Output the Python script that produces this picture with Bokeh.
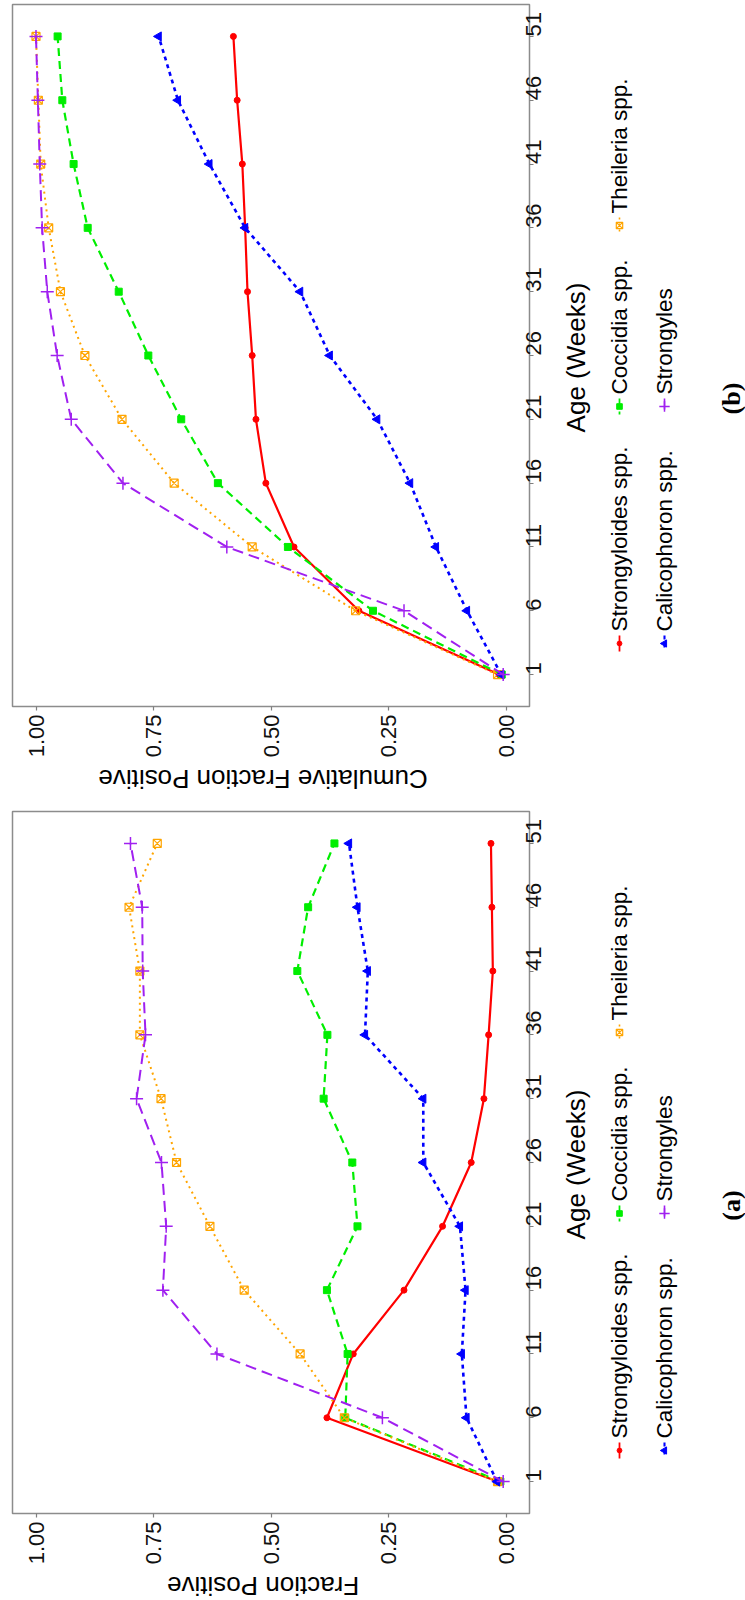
from math import pi

from bokeh.core.properties import value
from bokeh.embed import file_html
from bokeh.layouts import column, row
from bokeh.models import FixedTicker, NumeralTickFormatter, Range1d
from bokeh.plotting import figure
from bokeh.resources import INLINE

# ---- data -------------------------------------------------------------
weeks = [1, 6, 11, 16, 21, 26, 31, 36, 41, 46, 51]
fraction_ticks = [0.0, 0.25, 0.5, 0.75, 1.0]

series_names = ["Strongyloides spp.", "Coccidia spp.", "Theileria spp.",
                "Calicophoron spp.", "Strongyles"]

# (a) fraction positive by age
strongyloides_a = [0.018, 0.381, 0.325, 0.217, 0.135, 0.074, 0.047, 0.037, 0.028, 0.030, 0.032]
coccidia_a = [0.012, 0.342, 0.337, 0.381, 0.316, 0.327, 0.388, 0.380, 0.444, 0.421, 0.365]
theileria_a = [0.018, 0.344, 0.438, 0.557, 0.630, 0.701, 0.734, 0.779, 0.779, 0.802, 0.742]
calicophoron_a = [0.019, 0.084, 0.094, 0.086, 0.098, 0.176, 0.176, 0.300, 0.294, 0.316, 0.334]
strongyles_a = [0.006, 0.263, 0.615, 0.730, 0.723, 0.733, 0.786, 0.767, 0.773, 0.774, 0.799]

# (b) cumulative fraction positive by age
strongyloides_b = [0.015, 0.313, 0.451, 0.511, 0.532, 0.540, 0.550, 0.555, 0.561, 0.572, 0.580]
coccidia_b = [0.009, 0.283, 0.464, 0.613, 0.691, 0.761, 0.824, 0.890, 0.920, 0.944, 0.954]
theileria_b = [0.018, 0.320, 0.540, 0.706, 0.817, 0.896, 0.948, 0.973, 0.990, 0.995, 1.000]
calicophoron_b = [0.010, 0.083, 0.149, 0.204, 0.274, 0.375, 0.438, 0.555, 0.631, 0.698, 0.739]
strongyles_b = [0.006, 0.217, 0.594, 0.815, 0.925, 0.955, 0.976, 0.987, 0.992, 0.996, 1.000]

panel_a = [strongyloides_a, coccidia_a, theileria_a, calicophoron_a, strongyles_a]
panel_b = [strongyloides_b, coccidia_b, theileria_b, calicophoron_b, strongyles_b]

# ---- styles -------------------------------------------------------------
SANS = "Liberation Sans"
SERIF = "Liberation Serif"
STYLES = [
    dict(color="#FF0000", dash="solid", width=2.2, marker="circle", size=6, fill=True, angle=0.0, mlw=1.0),
    dict(color="#00EE00", dash="8 5", width=2.2, marker="square", size=7, fill=True, angle=0.0, mlw=1.0),
    dict(color="#FFA500", dash="2 4", width=2.0, marker="square_x", size=8, fill=False, angle=0.0, mlw=1.2),
    dict(color="#0000FF", dash="4 4", width=2.6, marker="triangle", size=9, fill=True, angle=pi / 2, mlw=1.0),
    dict(color="#A020F0", dash="11 6", width=2.0, marker="cross", size=13, fill=False, angle=0.0, mlw=1.5),
]

# page geometry (pixels); the whole figure is laid out a quarter turn round
MAIN_W, MAIN_H = 558, 762          # plot frame + tick labels
SIDE_W = 745 - MAIN_W              # age title, legend, caption
FRAME_LEFT, FRAME_TOP, FRAME_RIGHT, FRAME_BOTTOM = 12, 4, 29, 56
TITLE_X, TITLE_Y = 270.5, 16       # fraction-axis title inside its strip
AGE_TITLE_X, AGE_TITLE_Y = 575, 357
LEG_ROW_X = [619, 664]
LEG_COL_Y = [643, 406, 225]
LEG_SLOTS = [(0, 0), (0, 1), (0, 2), (1, 0), (1, 1)]
CAPTION_X, CAPTION_Y = 731, 398


def bare(width, height, xr, yr):
    f = figure(width=width, height=height, x_range=xr, y_range=yr,
               x_axis_location=None, y_axis_location=None,
               toolbar_location=None, output_backend="svg", min_border=0)
    f.grid.visible = False
    f.outline_line_color = None
    f.background_fill_color = "white"
    f.border_fill_color = "white"
    return f


def draw_series(p, values, st):
    p.line(values, weeks, line_color=st["color"], line_width=st["width"],
           line_dash=st["dash"])
    p.scatter(values, weeks, marker=st["marker"], size=st["size"], angle=st["angle"],
              line_color=st["color"], line_width=st["mlw"],
              fill_color=st["color"] if st["fill"] else None)


def make_panel(data, xtitle, caption, height):
    p = figure(width=MAIN_W, height=MAIN_H,
               x_range=Range1d(1.05, -0.05), y_range=Range1d(-1.5, 53.5),
               x_axis_location="below", y_axis_location="right",
               toolbar_location=None, output_backend="svg",
               min_border_left=FRAME_LEFT, min_border_top=FRAME_TOP,
               min_border_right=FRAME_RIGHT, min_border_bottom=FRAME_BOTTOM)
    p.xgrid.visible = False
    p.ygrid.visible = False
    p.outline_line_color = "#8c8c8c"
    p.outline_line_width = 1.5
    p.background_fill_color = "white"
    p.border_fill_color = "white"

    xa = p.xaxis[0]
    xa.ticker = FixedTicker(ticks=fraction_ticks)
    xa.formatter = NumeralTickFormatter(format="0.00")
    xa.major_label_orientation = pi / 2
    xa.major_label_standoff = 4

    ya = p.yaxis[0]
    ya.ticker = FixedTicker(ticks=weeks)
    ya.major_label_orientation = pi / 2
    ya.major_label_standoff = 0

    for ax in (xa, ya):
        ax.axis_line_color = None
        ax.major_tick_line_color = "#7f7f7f"
        ax.major_tick_line_width = 1.2
        ax.major_tick_out = 4
        ax.major_tick_in = 0
        ax.minor_tick_line_color = None
        ax.major_label_text_font = SANS
        ax.major_label_text_font_size = "22px"
        ax.major_label_text_color = "#111111"

    for values, st in zip(data, STYLES):
        draw_series(p, values, st)

    # fraction-axis title, read upside down
    strip_h = height - MAIN_H
    ts = bare(MAIN_W, strip_h, Range1d(0, MAIN_W), Range1d(strip_h, 0))
    ts.text(x=[TITLE_X], y=[TITLE_Y], text=[xtitle], angle=pi,
            text_align="center", text_baseline="middle",
            text_font=value(SANS), text_font_size="26px", text_color="#000000")

    # age title, legend and caption
    lg = bare(SIDE_W, height, Range1d(MAIN_W, 745), Range1d(height, 0))
    lg.text(x=[AGE_TITLE_X], y=[AGE_TITLE_Y], text=["Age (Weeks)"], angle=pi / 2,
            text_align="center", text_baseline="middle",
            text_font=value(SANS), text_font_size="26px", text_color="#000000")

    for name, st, (r, c) in zip(series_names, STYLES, LEG_SLOTS):
        kx = LEG_ROW_X[r]
        ky = LEG_COL_Y[c]
        lg.segment(x0=[kx], y0=[ky - 8], x1=[kx], y1=[ky + 8],
                   line_color=st["color"], line_width=st["width"] * 0.8,
                   line_dash=st["dash"])
        lg.scatter([kx], [ky], marker=st["marker"], size=st["size"] * 0.8,
                   angle=st["angle"], line_color=st["color"], line_width=st["mlw"],
                   fill_color=st["color"] if st["fill"] else None)
        lg.text(x=[kx], y=[ky - 12], text=[name], angle=pi / 2,
                text_align="left", text_baseline="middle",
                text_font=value(SANS), text_font_size="22.5px", text_color="#000000")

    lg.text(x=[CAPTION_X], y=[CAPTION_Y], text=[caption], angle=pi / 2,
            text_align="center", text_baseline="middle",
            text_font=value(SERIF), text_font_style="bold",
            text_font_size="26px", text_color="#000000")
    return row(column(p, ts), lg)


top_panel = make_panel(panel_b, "Cumulative Fraction Positive", "(b)", 807)
bottom_panel = make_panel(panel_a, "Fraction Positive", "(a)", 793)

layout = column(top_panel, bottom_panel)
open("out.html", "w").write(file_html(layout, INLINE))
